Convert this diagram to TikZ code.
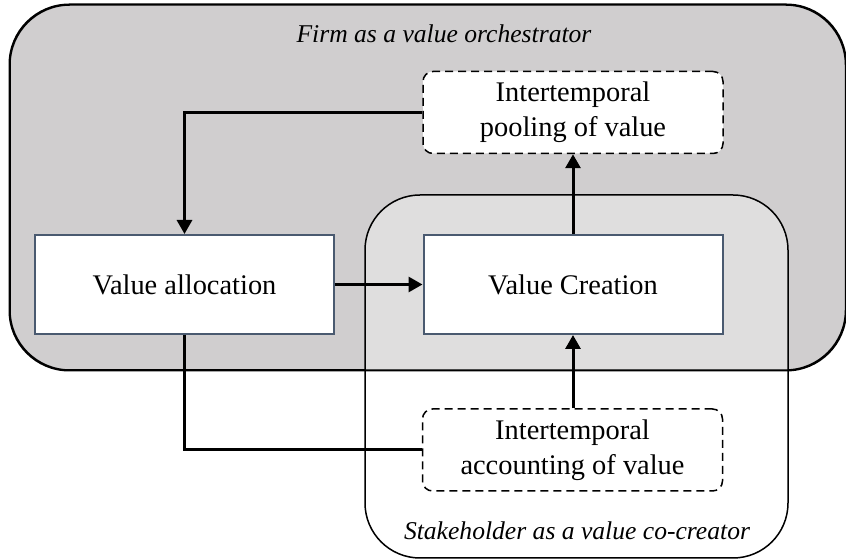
\documentclass[tikz,border=0pt]{standalone}
\usepackage{fontspec}
\setmainfont{Liberation Serif}
\usetikzlibrary{arrows.meta}
\definecolor{firmgray}{HTML}{D0CECF}
\definecolor{boxedge}{HTML}{4A5A70}
\tikzset{
  region/.style={draw=black, line width=0.75pt, rounded corners=#1, inner sep=0pt},
  valuebox/.style={draw=boxedge, line width=1pt, fill=white, inner sep=0pt,
    minimum width=149.5pt, minimum height=49.5pt,
    font=\fontsize{14.2}{17.5}\selectfont},
  poolbox/.style={draw=black, line width=0.75pt, dash pattern=on 4pt off 2.5pt,
    rounded corners=5pt, fill=white, inner sep=0pt, align=center,
    minimum width=150pt, minimum height=41pt,
    font=\fontsize{14.2}{17.5}\selectfont},
  caption/.style={font=\fontsize{12.8}{15}\selectfont\itshape, anchor=base, inner sep=0pt},
  link/.style={line width=1.5pt},
  flow/.style={link, -{Triangle[length=7pt,width=7.5pt]}},
}
\begin{document}
\begin{tikzpicture}[x=0.5pt, y=-0.5pt]
  \useasboundingbox (0,0) rectangle (846,560);

  % the two overlapping regions
  \node[region=30pt, fill=firmgray, minimum width=417.75pt, minimum height=182.5pt]
    (firm) at (427.75,187.5) {};
  \node[region=27.5pt, fill=white, fill opacity=0.33, draw opacity=1,
        minimum width=211.5pt, minimum height=181.5pt]
    (stake) at (576.5,376.5) {};
  \draw[line width=0.75pt, rounded corners=30pt]
    (firm.south west) rectangle (firm.north east);

  \node[caption] (firmlabel) at (444,43) {Firm as a value orchestrator};
  \node[caption] (stakelabel) at (577,540) {Stakeholder as a value co-creator};

  % process boxes
  \node[valuebox] (alloc) at (184.5,284.5) {Value allocation};
  \node[valuebox] (create) at (573,284.5) {Value Creation};
  \node[poolbox] (pool) at (573,112.5) {Intertemporal\\pooling of value};
  \node[poolbox] (account) at (572.5,450) {Intertemporal\\accounting of value};

  % connectors
  \draw[flow] (pool.west) -| (alloc.north);
  \draw[flow] (alloc.east) -- (create.west);
  \draw[flow] (create.north) -- (pool.south);
  \draw[flow] (account.north -| create.south) -- (create.south);
  \draw[link] (alloc.south) |- (account.west);
\end{tikzpicture}
\end{document}
